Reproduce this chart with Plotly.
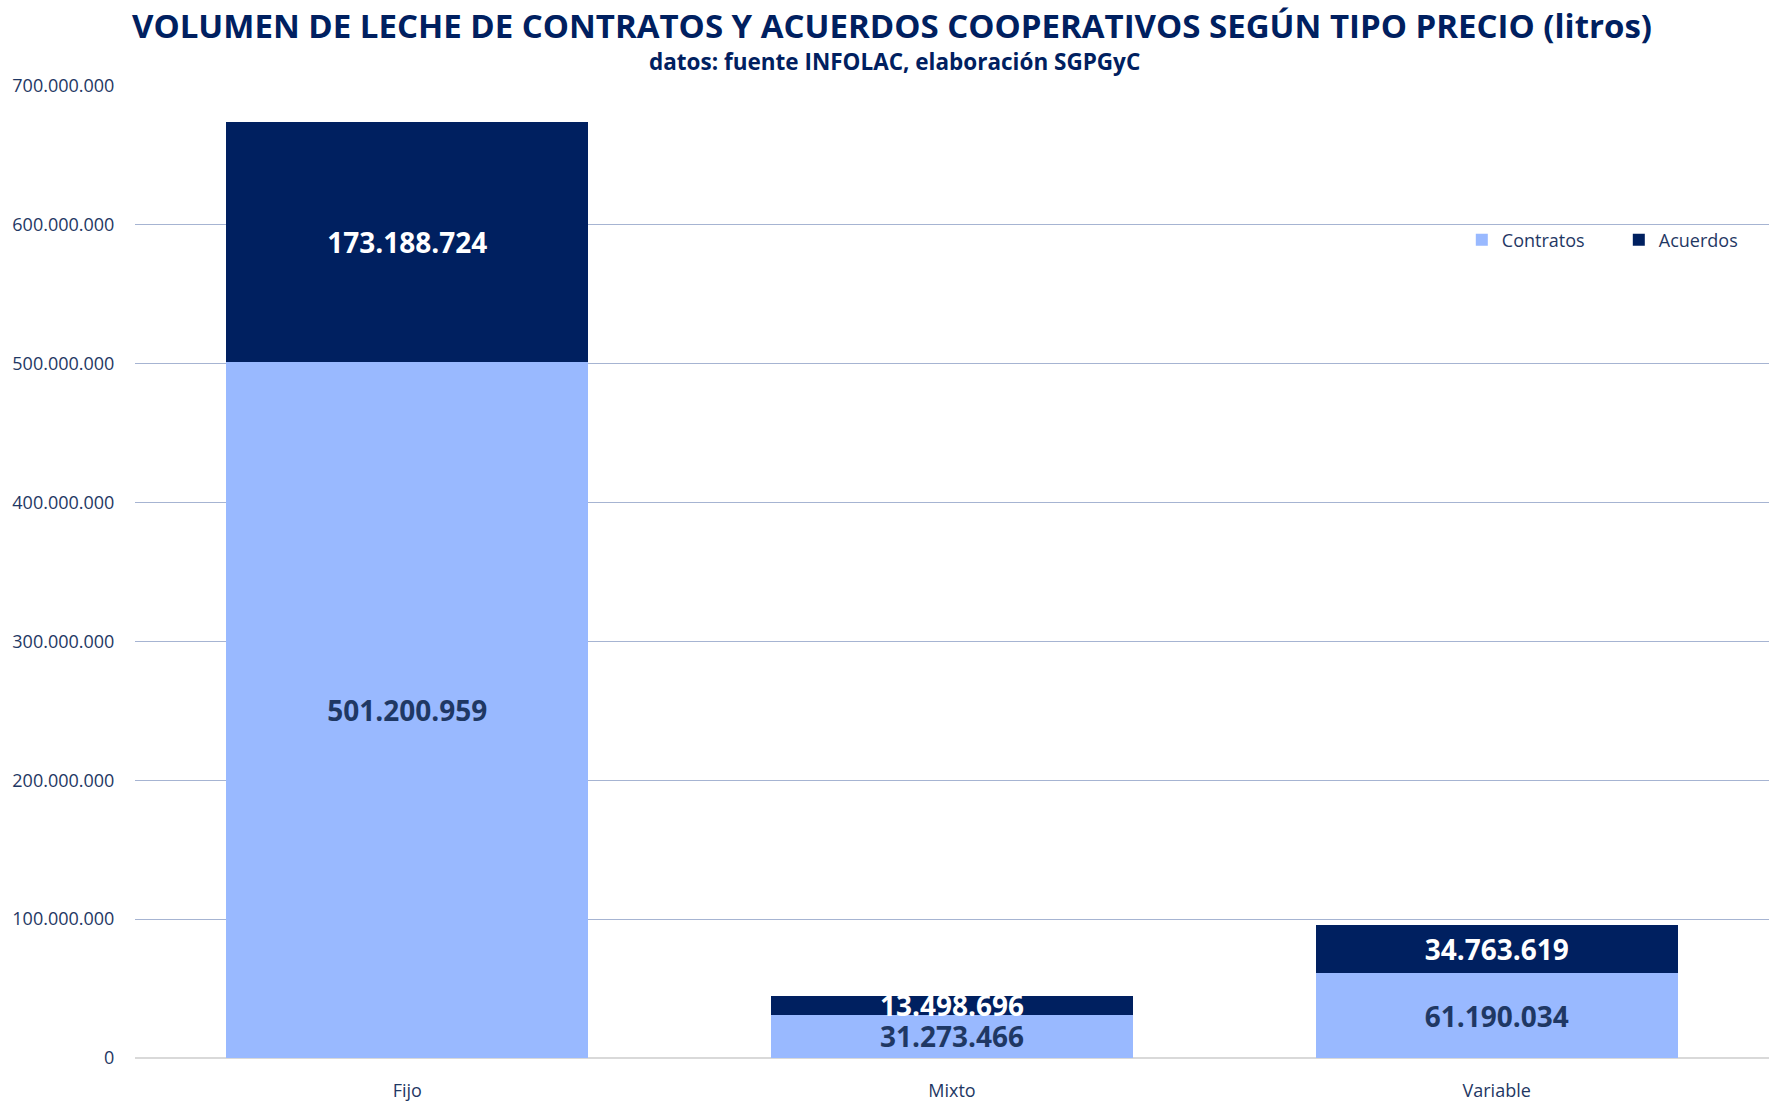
import plotly.graph_objects as go

categories = ["Fijo", "Mixto", "Variable"]
contratos = [501200959, 31273466, 61190034]
acuerdos = [173188724, 13498696, 34763619]
y_ticks = [0, 100000000, 200000000, 300000000, 400000000, 500000000, 600000000, 700000000]
title_text = "VOLUMEN DE LECHE DE CONTRATOS Y ACUERDOS COOPERATIVOS SEGÚN TIPO PRECIO (litros)"
subtitle_text = "datos: fuente INFOLAC, elaboración SGPGyC"


def fmt(v):
    return f"{v:,}".replace(",", ".")


NAVY = "#002060"
LIGHT = "#99B9FF"
TXT = "#1F3864"
FONT = "Open Sans"

fig = go.Figure()
fig.add_trace(go.Bar(
    x=categories, y=contratos, name="Contratos",
    marker=dict(color=LIGHT, line=dict(width=0)),
    text=[fmt(v) for v in contratos], textposition="inside",
    insidetextanchor="middle",
    textfont=dict(family=FONT, size=28, color=TXT, weight="bold"),
    width=0.665,
))
fig.add_trace(go.Bar(
    x=categories, y=acuerdos, name="Acuerdos",
    marker=dict(color=NAVY, line=dict(width=0)),
    text=[fmt(v) for v in acuerdos], textposition="inside",
    insidetextanchor="middle",
    textfont=dict(family=FONT, size=28, color="white", weight="bold"),
    width=0.665,
))

fig.add_annotation(
    text=f"<b>{title_text}</b>", xref="paper", yref="paper",
    x=0.463, y=1.0627, xanchor="center", yanchor="middle", showarrow=False,
    font=dict(family=FONT, size=33, color=NAVY),
)
fig.add_annotation(
    text=f"<b>{subtitle_text}</b>", xref="paper", yref="paper",
    x=0.465, y=1.0257, xanchor="center", yanchor="middle", showarrow=False,
    font=dict(family=FONT, size=22.5, color=NAVY),
)

fig.update_layout(
    barmode="stack",
    width=1769, height=1105,
    paper_bgcolor="white", plot_bgcolor="white",
    margin=dict(l=135, r=0, t=86, b=47, autoexpand=False),
    uniformtext=dict(mode="show", minsize=28),
    legend=dict(
        orientation="h", x=0.812, y=0.8416, xanchor="left", yanchor="middle",
        font=dict(family=FONT, size=18, color=TXT),
        bgcolor="rgba(0,0,0,0)", traceorder="normal",
        entrywidth=112, entrywidthmode="pixels", itemsizing="constant",
    ),
    font=dict(family=FONT, color=TXT),
    bargap=0.335,
)
fig.update_yaxes(
    range=[0, 700000000], tickvals=y_ticks, ticktext=[fmt(v) for v in y_ticks],
    showgrid=True, gridcolor="#A6B4D2", gridwidth=1,
    zeroline=True, zerolinecolor="#D9D9D9", zerolinewidth=2,
    tickfont=dict(family=FONT, size=18, color=TXT),
    ticks="outside", ticklen=16, tickcolor="rgba(0,0,0,0)",
)
fig.update_xaxes(
    tickfont=dict(family=FONT, size=18, color=TXT),
    ticks="outside", ticklen=16, tickcolor="rgba(0,0,0,0)",
    showline=False,
)

fig.write_html("out.html")
